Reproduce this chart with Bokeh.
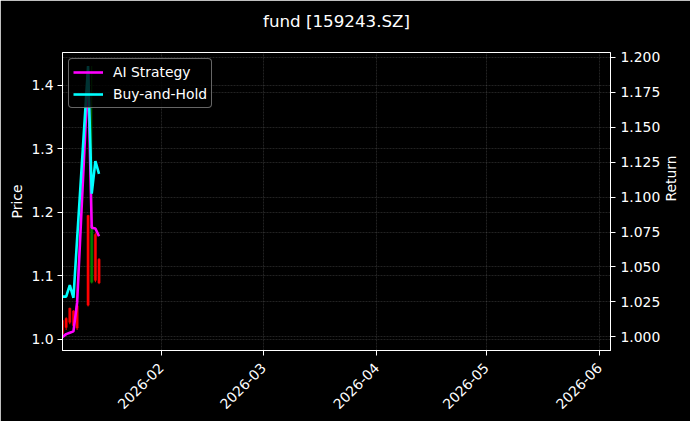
import math
import pandas as pd
from bokeh.plotting import figure
from bokeh.models import (Range1d, LinearAxis, FixedTicker, SingleIntervalTicker,
                          DatetimeTickFormatter, PrintfTickFormatter, Grid,
                          Legend, LegendItem, ColumnDataSource, Title)
from bokeh.embed import file_html
from bokeh.resources import INLINE

# ---------------- data ----------------
TITLE = "fund [159243.SZ]"
dates = ["2026-01-05", "2026-01-06", "2026-01-07", "2026-01-08", "2026-01-09",
         "2026-01-12", "2026-01-13", "2026-01-14", "2026-01-15"]
open_ = [1.009, 1.019, 1.027, 1.022, 1.018, 1.054, 1.180, 1.093, 1.089]
high = [1.032, 1.035, 1.050, 1.046, 1.055, 1.196, 1.430, 1.168, 1.128]
low = [1.004, 1.015, 1.024, 1.020, 1.015, 1.052, 1.088, 1.090, 1.087]
close = [1.030, 1.033, 1.049, 1.045, 1.053, 1.195, 1.090, 1.165, 1.126]
ai_strategy = [1.000, 1.002, 1.003, 1.004, 1.0245, 1.189, 1.078, 1.0775, 1.072]
buy_hold = [1.0288, 1.0288, 1.037, 1.028, 1.070, 1.1936, 1.1024, 1.1257, 1.1165]
month_ticks = ["2026-02-01", "2026-03-01", "2026-04-01", "2026-05-01", "2026-06-01"]
x_start, x_end = "2026-01-05", "2026-06-04"
price_ticks_step = 0.1
return_ticks_step = 0.025

# ---------------- styling ----------------
BG = "#000000"
FG = "#ffffff"
GRID = "#808080"
FONT = "DejaVu Sans"
TICK_FS = "13.9px"
TITLE_FS = "16.7px"

x = pd.to_datetime(dates)
up = [c >= o for o, c in zip(open_, close)]
src = ColumnDataSource(dict(
    x=x, open=open_, high=high, low=low, close=close,
    top=[max(o, c) for o, c in zip(open_, close)],
    bottom=[min(o, c) for o, c in zip(open_, close)],
    color=["#ff0000" if u else "#008000" for u in up],
    ai=ai_strategy, bh=buy_hold,
))

def padded(lo, hi, frac=0.05):
    pad = (hi - lo) * frac
    return lo - pad, hi + pad

p_lo, p_hi = padded(min(low), max(high))
r_lo, r_hi = padded(min(ai_strategy + buy_hold), max(ai_strategy + buy_hold))

p = figure(width=690, height=421, output_backend="svg", toolbar_location=None,
           x_axis_type="datetime",
           x_range=Range1d(pd.Timestamp(x_start), pd.Timestamp(x_end)),
           y_range=Range1d(p_lo, p_hi),
           min_border_left=62, min_border_right=79, min_border_top=52,
           min_border_bottom=71)
p.extra_y_ranges = {"ret": Range1d(r_lo, r_hi)}

p.background_fill_color = BG
p.border_fill_color = BG
p.outline_line_color = FG
p.outline_line_width = 1

# spacer (closest to frame) then the real title above it
spacer = Title(text=" ", text_font=FONT, text_font_size=TITLE_FS, standoff=0,
               text_color=BG)
p.add_layout(spacer, "above")
title = Title(text=TITLE, align="center", text_color=FG, text_font=FONT,
              text_font_size=TITLE_FS, text_font_style="normal", standoff=0)
p.add_layout(title, "above")

# candles
p.segment(x0="x", y0="low", x1="x", y1="high", source=src, line_color="color", line_width=1)
p.vbar(x="x", top="top", bottom="bottom", width=0.6 * 86400000, source=src,
       fill_color="color", line_color="color", line_width=0.5)

# lines on return axis
r_ai = p.line("x", "ai", source=src, line_color="#ff00ff", line_width=2.6, y_range_name="ret")
r_bh = p.line("x", "bh", source=src, line_color="#00ffff", line_width=2.6, y_range_name="ret")

def style_axis(ax):
    ax.axis_line_color = FG
    ax.major_tick_line_color = FG
    ax.minor_tick_line_color = None
    ax.major_tick_out = 5
    ax.major_tick_in = 0
    ax.major_label_text_color = FG
    ax.major_label_text_font = FONT
    ax.major_label_text_font_size = TICK_FS
    ax.axis_label_text_color = FG
    ax.axis_label_text_font = FONT
    ax.axis_label_text_font_size = TICK_FS
    ax.axis_label_text_font_style = "normal"

# x axis
xa = p.xaxis[0]
xa.ticker = FixedTicker(ticks=[pd.Timestamp(t).value // 10**6 for t in month_ticks])
fmt = "%Y-%m"
xa.formatter = DatetimeTickFormatter(microseconds=fmt, milliseconds=fmt, seconds=fmt,
                                     minsec=fmt, minutes=fmt, hourmin=fmt, hours=fmt,
                                     days=fmt, months=fmt, years=fmt)
xa.major_label_orientation = math.pi / 4
xa.major_label_standoff = 10
style_axis(xa)

# left axis
ya = p.yaxis[0]
ya.ticker = SingleIntervalTicker(interval=price_ticks_step)
ya.formatter = PrintfTickFormatter(format="%.1f")
ya.axis_label = "Price"
ya.major_label_standoff = 4
ya.axis_label_standoff = 3
style_axis(ya)

# right axis
ra = LinearAxis(y_range_name="ret", axis_label="Return",
                ticker=SingleIntervalTicker(interval=return_ticks_step),
                formatter=PrintfTickFormatter(format="%.3f"))
ra.major_label_standoff = 5
ra.axis_label_standoff = 8
try:
    ra.axis_label_orientation = math.pi / 2
except Exception:
    pass
style_axis(ra)
p.add_layout(ra, "right")

# grids
for g in (p.xgrid[0], p.ygrid[0]):
    g.grid_line_color = GRID
    g.grid_line_alpha = 0.45
    g.grid_line_width = 0.6
    g.grid_line_dash = "2 1"
rg = Grid(dimension=1, ticker=ra.ticker, y_range_name="ret",
          grid_line_color=GRID, grid_line_alpha=0.45, grid_line_width=0.6,
          grid_line_dash="2 1")
p.add_layout(rg)

# legend
legend = Legend(items=[LegendItem(label="AI Strategy", renderers=[r_ai]),
                       LegendItem(label="Buy-and-Hold", renderers=[r_bh])],
                location="top_left")
legend.background_fill_color = BG
legend.background_fill_alpha = 0.8
legend.border_line_color = "#cccccc"
legend.border_line_width = 1
try:
    legend.border_radius = 4
except Exception:
    pass
legend.label_text_color = FG
legend.label_text_font = FONT
legend.label_text_font_size = TICK_FS
legend.glyph_width = 30
legend.glyph_height = 18
legend.label_height = 18
legend.spacing = 4
legend.padding = 4
legend.margin = 6
legend.label_standoff = 10
p.add_layout(legend)

open("out.html", "w").write(file_html(p, INLINE))
